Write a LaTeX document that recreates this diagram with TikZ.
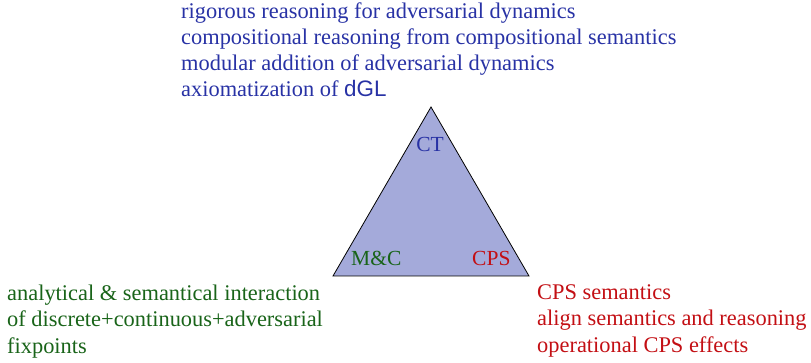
\documentclass[tikz,border=0pt]{standalone}
\usepackage{fontspec}
\setmainfont{Liberation Serif}
\newfontfamily\dglfont{Liberation Sans}
\usetikzlibrary{positioning}
\definecolor{ctblue}{RGB}{40,50,165}
\definecolor{mcgreen}{RGB}{25,100,25}
\definecolor{cpsred}{RGB}{195,15,20}
\definecolor{trifill}{RGB}{164,170,218}
\tikzset{txt/.style={font=\fontsize{21.5}{26.3}\selectfont,align=left,inner sep=0pt,anchor=base west},
  sidetxt/.style={txt,font=\fontsize{22.4}{26.3}\selectfont}}

\begin{document}
\begin{tikzpicture}[x=1pt,y=-1pt]
\useasboundingbox (0,0) rectangle (811,363);
% triangle of the three fields
\coordinate (top) at (431,107);
\coordinate (left) at (333,276);
\coordinate (right) at (529,276);
\draw[fill=trifill,line width=0.8pt] (top) -- (left) -- (right) -- cycle;
\node[txt,anchor=base,ctblue] (ct) at (430,152) {CT};
\node[txt,mcgreen] (mc) at (351,266) {M\&C};
\node[txt,cpsred] (cps) at (472,266) {CPS};
% CT side (anchored at last line)
\node[sidetxt,ctblue] (cttext) at (181,97) {rigorous reasoning for adversarial dynamics\\
compositional reasoning from compositional semantics\\
modular addition of adversarial dynamics\\
axiomatization of {\dglfont dGL}};
% M&C side
\node[sidetxt,mcgreen] (mctext) at (7,353) {analytical \& semantical interaction\\
of discrete+continuous+adversarial\\
fixpoints};
% CPS side
\node[sidetxt,cpsred] (cpstext) at (537,352) {CPS semantics\\
align semantics and reasoning\\
operational CPS effects};
\end{tikzpicture}
\end{document}
